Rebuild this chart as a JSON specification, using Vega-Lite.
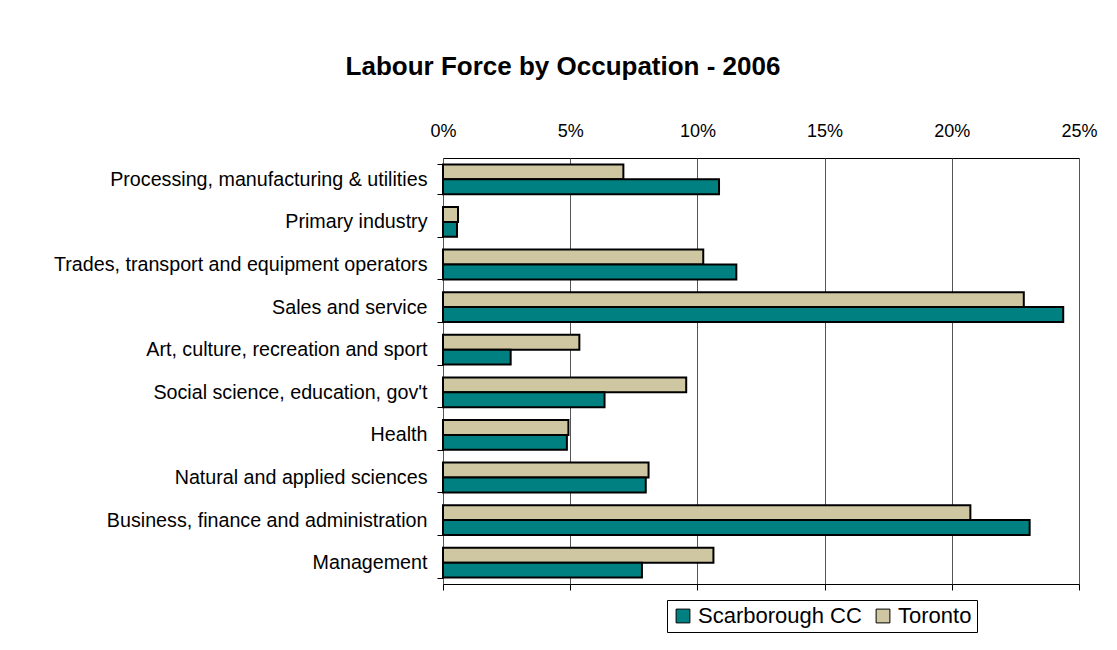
{
  "$schema": "https://vega.github.io/schema/vega-lite/v6.json",
  "autosize": "none",
  "width": 636,
  "height": 426,
  "padding": {"left": 443, "top": 158, "right": 38, "bottom": 66},
  "background": "white",
  "title": {
    "text": "Labour Force by Occupation - 2006",
    "font": "Liberation Sans",
    "fontSize": 26,
    "fontWeight": "bold",
    "color": "black",
    "anchor": "middle",
    "frame": "group",
    "dx": -198,
    "offset": 42
  },
  "config": {
    "view": {"stroke": "black", "strokeWidth": 1},
    "font": "Liberation Sans"
  },
  "data": {
    "values": [
      {"occupation": "Processing, manufacturing & utilities", "area": "Toronto", "share": 0.0709},
      {"occupation": "Processing, manufacturing & utilities", "area": "Scarborough CC", "share": 0.1085},
      {"occupation": "Primary industry", "area": "Toronto", "share": 0.0059},
      {"occupation": "Primary industry", "area": "Scarborough CC", "share": 0.0055},
      {"occupation": "Trades, transport and equipment operators ", "area": "Toronto", "share": 0.1023},
      {"occupation": "Trades, transport and equipment operators ", "area": "Scarborough CC", "share": 0.1153},
      {"occupation": "Sales and service ", "area": "Toronto", "share": 0.2283},
      {"occupation": "Sales and service ", "area": "Scarborough CC", "share": 0.2438},
      {"occupation": "Art, culture, recreation and sport", "area": "Toronto", "share": 0.0536},
      {"occupation": "Art, culture, recreation and sport", "area": "Scarborough CC", "share": 0.0266},
      {"occupation": "Social science, education, gov't", "area": "Toronto", "share": 0.0956},
      {"occupation": "Social science, education, gov't", "area": "Scarborough CC", "share": 0.0635},
      {"occupation": "Health ", "area": "Toronto", "share": 0.0493},
      {"occupation": "Health ", "area": "Scarborough CC", "share": 0.0487},
      {"occupation": "Natural and applied sciences ", "area": "Toronto", "share": 0.0808},
      {"occupation": "Natural and applied sciences ", "area": "Scarborough CC", "share": 0.0797},
      {"occupation": "Business, finance and administration ", "area": "Toronto", "share": 0.2073},
      {"occupation": "Business, finance and administration ", "area": "Scarborough CC", "share": 0.2306},
      {"occupation": "Management ", "area": "Toronto", "share": 0.1063},
      {"occupation": "Management ", "area": "Scarborough CC", "share": 0.0782}
    ]
  },
  "encoding": {
    "y": {
      "field": "occupation",
      "type": "nominal",
      "sort": null,
      "scale": {"paddingInner": 0.3, "paddingOuter": 0.15},
      "axis": {
        "title": null,
        "domain": false,
        "tickBand": "extent",
        "tickSize": 6,
        "tickColor": "black",
        "labelPadding": 10,
        "labelFontSize": 19.7,
        "labelColor": "black",
        "labelFont": "Liberation Sans",
        "labelLimit": 500
      }
    },
    "yOffset": {
      "field": "area",
      "type": "nominal",
      "sort": ["Toronto", "Scarborough CC"]
    },
    "color": {
      "field": "area",
      "type": "nominal",
      "scale": {"domain": ["Scarborough CC", "Toronto"], "range": ["#008080", "#CFC6A2"]},
      "legend": {
        "title": null,
        "orient": "none",
        "legendX": 224,
        "legendY": 442,
        "direction": "horizontal",
        "symbolType": "square",
        "symbolSize": 190,
        "symbolStrokeColor": "black",
        "symbolStrokeWidth": 1,
        "labelFontSize": 22,
        "labelFont": "Liberation Sans",
        "labelColor": "black",
        "labelLimit": 0,
        "columnPadding": 10,
        "strokeColor": "black",
        "padding": 5
      }
    }
  },
  "layer": [
    {
      "mark": {"type": "bar", "stroke": "black", "strokeWidth": 2},
      "encoding": {
        "x": {
          "field": "share",
          "type": "quantitative",
          "scale": {"domain": [0, 0.25], "nice": false},
          "axis": {
            "orient": "top",
            "title": null,
            "format": ".0%",
            "values": [0, 0.05, 0.1, 0.15, 0.2, 0.25],
            "domain": false,
            "ticks": false,
            "labelFlush": false,
            "labelPadding": 18,
            "labelFontSize": 18,
            "labelColor": "black",
            "labelFont": "Liberation Sans",
            "grid": true,
            "gridColor": "#555555",
            "gridWidth": 1
          }
        }
      }
    },
    {
      "mark": {"type": "bar", "opacity": 0},
      "encoding": {
        "x": {
          "field": "share",
          "type": "quantitative",
          "scale": {"domain": [0, 0.25], "nice": false},
          "axis": {
            "orient": "bottom",
            "title": null,
            "values": [0, 0.05, 0.1, 0.15, 0.2, 0.25],
            "labels": false,
            "domain": false,
            "ticks": true,
            "tickSize": 6,
            "tickColor": "black",
            "grid": false
          }
        }
      }
    }
  ],
  "resolve": {"axis": {"x": "independent"}}
}
